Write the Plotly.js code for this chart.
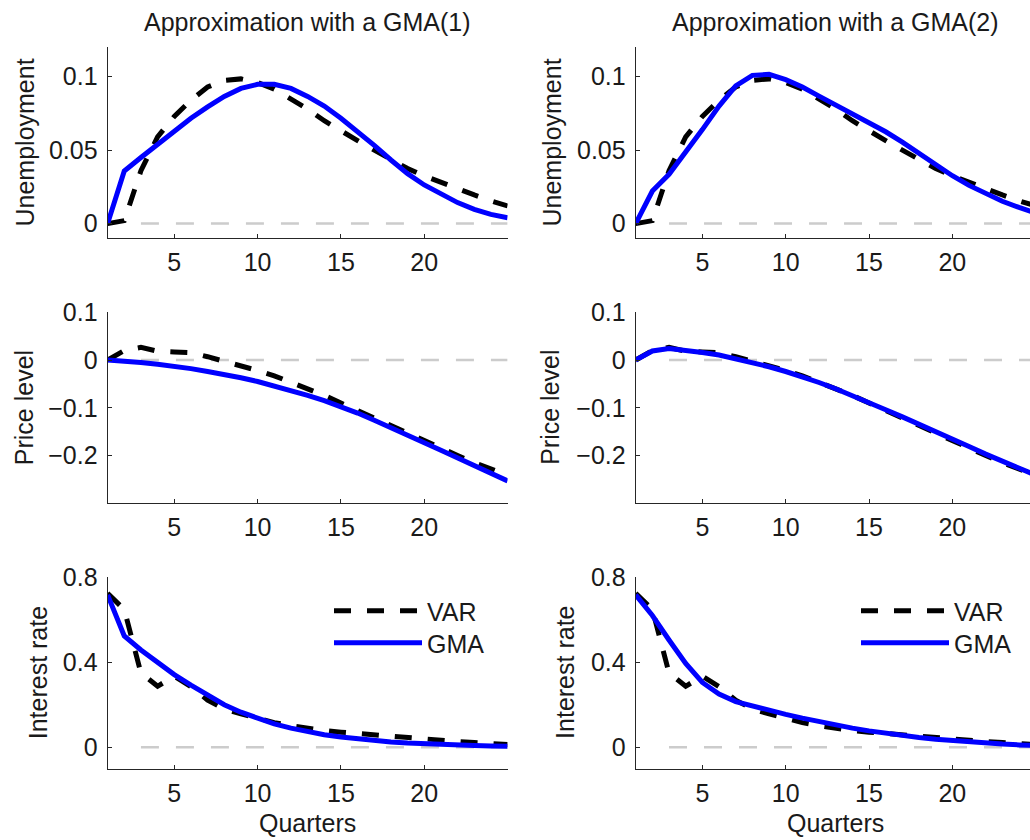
<!DOCTYPE html>
<html>
<head>
<meta charset="utf-8">
<script src="https://cdn.plot.ly/plotly-3.0.1.min.js"></script>
<style>
html,body{margin:0;padding:0;background:#fff;overflow:hidden}
#chart{width:1030px;height:840px}
</style>
</head>
<body>
<div id="chart"></div>
<script>
// ---------------- data ----------------
const quarters = [1,2,3,4,5,6,7,8,9,10,11,12,13,14,15,16,17,18,19,20,21,22,23,24,25];

const columnTitles = ["Approximation with a GMA(1)", "Approximation with a GMA(2)"];
const rowLabels = ["Unemployment", "Price level", "Interest rate"];
const xAxisLabel = "Quarters";
const seriesNames = ["VAR", "GMA"];

// VAR impulse responses (same in both columns)
const varUnemployment = [0, 0.002, 0.036, 0.059, 0.073, 0.084, 0.093, 0.0975, 0.0985, 0.096, 0.0915, 0.085, 0.078, 0.070, 0.063, 0.0565, 0.050, 0.0435, 0.0375, 0.0325, 0.028, 0.0238, 0.0195, 0.0155, 0.012];
const varPrice = [0, 0.020, 0.0265, 0.0185, 0.017, 0.0155, 0.007, -0.002, -0.012, -0.022, -0.033, -0.046, -0.059, -0.074, -0.090, -0.106, -0.122, -0.138, -0.153, -0.169, -0.185, -0.200, -0.215, -0.229, -0.241];
const varInterest = [0.725, 0.648, 0.35, 0.287, 0.335, 0.285, 0.222, 0.18, 0.157, 0.136, 0.116, 0.101, 0.089, 0.079, 0.071, 0.064, 0.058, 0.051, 0.045, 0.039, 0.033, 0.027, 0.022, 0.017, 0.013];

// GMA(1) approximation
const gma1Unemployment = [0, 0.0358, 0.045, 0.054, 0.0637, 0.0717, 0.0794, 0.0866, 0.092, 0.0948, 0.0948, 0.092, 0.0866, 0.080, 0.0717, 0.063, 0.0533, 0.0433, 0.034, 0.0263, 0.020, 0.0143, 0.0097, 0.0063, 0.004];
const gma1Price = [0, -0.002, -0.005, -0.009, -0.013, -0.018, -0.024, -0.030, -0.037, -0.045, -0.054, -0.063, -0.074, -0.085, -0.097, -0.111, -0.126, -0.141, -0.157, -0.173, -0.189, -0.205, -0.221, -0.237, -0.253];
const gma1Interest = [0.717, 0.524, 0.458, 0.397, 0.342, 0.292, 0.243, 0.200, 0.165, 0.135, 0.110, 0.090, 0.073, 0.059, 0.048, 0.039, 0.031, 0.025, 0.020, 0.016, 0.013, 0.010, 0.008, 0.006, 0.005];

// GMA(2) approximation
const gma2Unemployment = [0, 0.0222, 0.0336, 0.0483, 0.064, 0.080, 0.0937, 0.1009, 0.1016, 0.098, 0.093, 0.0868, 0.0807, 0.0745, 0.0687, 0.0625, 0.0555, 0.0478, 0.040, 0.0326, 0.026, 0.0203, 0.0152, 0.011, 0.0072];
const gma2Price = [0, 0.019, 0.024, 0.021, 0.016, 0.0105, 0.003, -0.005, -0.014, -0.024, -0.035, -0.047, -0.060, -0.074, -0.088, -0.104, -0.119, -0.134, -0.150, -0.165, -0.181, -0.197, -0.212, -0.227, -0.241];
const gma2Interest = [0.717, 0.62, 0.505, 0.395, 0.305, 0.25, 0.215, 0.193, 0.173, 0.155, 0.137, 0.120, 0.104, 0.090, 0.077, 0.065, 0.055, 0.046, 0.038, 0.031, 0.025, 0.020, 0.015, 0.011, 0.008];

// zero reference line (drawn from quarter 3 to 25)
const zeroLineX = [3, 25];
const zeroLineY = [0, 0];

// tick values / labels
const xTickVals = [5, 10, 15, 20];
const xTickText = ["5", "10", "15", "20"];
const unempTickVals = [0, 0.05, 0.1];
const unempTickText = ["0", "0.05", "0.1"];
const priceTickVals = [-0.2, -0.1, 0, 0.1];
const priceTickText = ["\u22120.2", "\u22120.1", "0", "0.1"];
const rateTickVals = [0, 0.4, 0.8];
const rateTickText = ["0", "0.4", "0.8"];

// ---------------- build ----------------
const W = 1030, H = 840;
const FONT = "Liberation Sans, Arial, Helvetica, sans-serif";
const FS = 25;
const TXT = "#1a1a1a";
const AX = "#262626";

const panels = [
  {var: varUnemployment, gma: gma1Unemployment},
  {var: varUnemployment, gma: gma2Unemployment},
  {var: varPrice, gma: gma1Price},
  {var: varPrice, gma: gma2Price},
  {var: varInterest, gma: gma1Interest, legends: ["legend", "legend2"]},
  {var: varInterest, gma: gma2Interest, legends: ["legend3", "legend4"]}
];

const traces = [];
panels.forEach((p, i) => {
  const n = i + 1;
  const xa = n === 1 ? "x" : "x" + n;
  const ya = n === 1 ? "y" : "y" + n;
  traces.push({
    x: zeroLineX, y: zeroLineY, xaxis: xa, yaxis: ya, mode: "lines",
    line: {color: "#cccccc", width: 2.5, dash: "18px,17px"},
    showlegend: false, hoverinfo: "skip"
  });
  traces.push({
    x: quarters, y: p.var, xaxis: xa, yaxis: ya, mode: "lines", name: seriesNames[0],
    line: {color: "#000000", width: 5, dash: "17px,16px"},
    showlegend: !!p.legends, legend: p.legends ? p.legends[0] : "legend"
  });
  traces.push({
    x: quarters, y: p.gma, xaxis: xa, yaxis: ya, mode: "lines", name: seriesNames[1],
    line: {color: "#0000ff", width: 5},
    showlegend: !!p.legends, legend: p.legends ? p.legends[1] : "legend"
  });
});

const colPx = [[107.6, 507.6], [635.7, 1030]];
const rowPx = [[47.3, 238.3], [312.3, 503.3], [577.3, 768.5]];
const pxPerQ = 400 / 24;
const yRanges = [[-0.01, 0.12], [-0.3, 0.1], [-0.1, 0.8]];
const yTicks = [[unempTickVals, unempTickText], [priceTickVals, priceTickText], [rateTickVals, rateTickText]];

function legendBox(xpx, ytop) {
  return {
    x: xpx / W, y: 1 - ytop / H, xanchor: "left", yanchor: "top",
    bgcolor: "rgba(0,0,0,0)", borderwidth: 0, itemwidth: 88,
    font: {family: FONT, size: FS, color: TXT}, tracegroupgap: 0
  };
}

const layout = {
  width: W, height: H,
  margin: {l: 0, r: 0, t: 0, b: 0},
  paper_bgcolor: "#ffffff", plot_bgcolor: "#ffffff",
  font: {family: FONT, size: FS, color: TXT},
  annotations: [],
  legend: legendBox(329, 588),
  legend2: legendBox(329, 620),
  legend3: legendBox(856, 588),
  legend4: legendBox(856, 620)
};

for (let r = 0; r < 3; r++) {
  for (let c = 0; c < 2; c++) {
    const n = r * 2 + c + 1;
    const xKey = n === 1 ? "xaxis" : "xaxis" + n;
    const yKey = n === 1 ? "yaxis" : "yaxis" + n;
    const cp = colPx[c], rp = rowPx[r];
    layout[xKey] = {
      domain: [cp[0] / W, cp[1] / W],
      range: [1, 1 + (cp[1] - cp[0]) / pxPerQ],
      anchor: n === 1 ? "y" : "y" + n,
      tickvals: xTickVals, ticktext: xTickText,
      ticks: "inside", ticklen: 4, tickwidth: 1, tickcolor: AX,
      showline: true, linecolor: AX, linewidth: 1,
      showgrid: false, zeroline: false, fixedrange: true,
      tickfont: {family: FONT, size: FS, color: TXT},
      ticklabelstandoff: 2
    };
    layout[yKey] = {
      domain: [1 - rp[1] / H, 1 - rp[0] / H],
      range: yRanges[r],
      anchor: n === 1 ? "x" : "x" + n,
      tickvals: yTicks[r][0], ticktext: yTicks[r][1],
      ticks: "inside", ticklen: 4, tickwidth: 1, tickcolor: AX,
      showline: true, linecolor: AX, linewidth: 1,
      showgrid: false, zeroline: false, fixedrange: true,
      tickfont: {family: FONT, size: FS, color: TXT},
      ticklabelstandoff: 4
    };
  }
}

// column titles and x-axis labels
[307.6, 835.7].forEach((cx, c) => {
  layout.annotations.push({
    text: columnTitles[c], xref: "paper", yref: "paper",
    x: cx / W, y: 1 - 21.5 / H, xanchor: "center", yanchor: "middle",
    showarrow: false, font: {family: FONT, size: FS, color: TXT}
  });
  layout.annotations.push({
    text: xAxisLabel, xref: "paper", yref: "paper",
    x: cx / W, y: 1 - 823.4 / H, xanchor: "center", yanchor: "middle",
    showarrow: false, font: {family: FONT, size: FS, color: TXT}
  });
});

// row labels (rotated)
const labelX = [[24.7, 551.7], [23.4, 550.0], [38.4, 565.0]];
for (let r = 0; r < 3; r++) {
  for (let c = 0; c < 2; c++) {
    const rp = rowPx[r];
    layout.annotations.push({
      text: rowLabels[r], xref: "paper", yref: "paper",
      x: labelX[r][c] / W, y: 1 - ((rp[0] + rp[1]) / 2) / H,
      xanchor: "center", yanchor: "middle", textangle: -90,
      showarrow: false, font: {family: FONT, size: FS, color: TXT}
    });
  }
}

Plotly.newPlot("chart", traces, layout, {staticPlot: true, displayModeBar: false});
</script>
</body>
</html>
